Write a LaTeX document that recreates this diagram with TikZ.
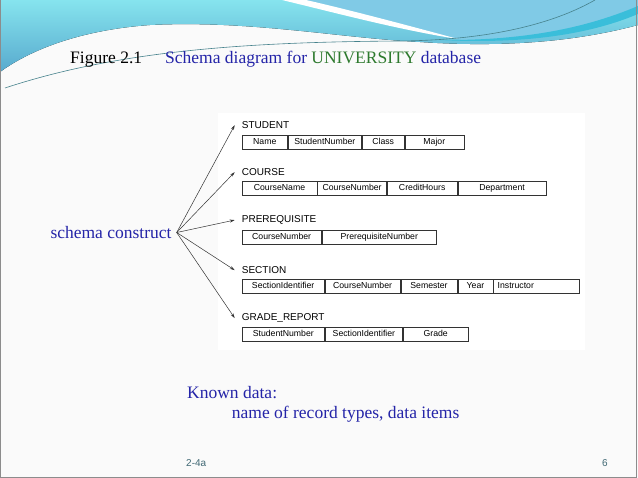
\documentclass[tikz,border=0pt]{standalone}
\usepackage{fontspec}
\setmainfont{Liberation Serif}
\setsansfont{Liberation Sans}
\usetikzlibrary{positioning,arrows.meta}
\definecolor{titleblue}{RGB}{36,36,168}
\definecolor{unigreen}{RGB}{46,122,46}
\definecolor{wavecyan}{RGB}{134,228,238}
\definecolor{wavedark}{RGB}{88,170,206}
\definecolor{waveblue}{RGB}{128,202,230}
\definecolor{wavebright}{RGB}{58,190,218}
\definecolor{waveline}{RGB}{70,130,140}
\definecolor{footgray}{RGB}{64,104,116}

\begin{document}
\begin{tikzpicture}[x=1pt,y=-1pt,
  cell/.style={draw=black!80, line width=0.6pt, minimum height=14pt, inner sep=0pt,
    text height=6.6pt, text depth=1.9pt, font=\sffamily\fontsize{8.7}{10}\selectfont},
  relname/.style={font=\sffamily\fontsize{10}{12}\selectfont, anchor=base west,
    inner xsep=7pt, inner ysep=0pt},
  slidetext/.style={font=\fontsize{17.5}{21}\selectfont, text=titleblue, inner sep=0pt},
  pointer/.style={-{Stealth[length=5pt,width=3pt]}, line width=0.5pt, draw=black!80},
  ]
  \useasboundingbox (0,0) rectangle (638,478);
  % slide and top wave
  \fill[black!2] (0,0) rectangle (638,478);
  \fill[top color=wavecyan, bottom color=wavedark] (0,0) -- (638,0) -- (638,25)
    .. controls (560,46) and (480,46) .. (420,42)
    .. controls (340,38) and (250,20) .. (150,25)
    .. controls (80,30) and (30,50) .. (0,72) -- cycle;
  \fill[waveblue] (292,0) -- (638,0) -- (638,8)
    .. controls (590,28) and (530,40) .. (462,40)
    .. controls (400,30) and (340,12) .. (292,0) -- cycle;
  \fill[white] (282,0) .. controls (340,14) and (400,30) .. (458,39)
    .. controls (410,26) and (350,10) .. (306,0) -- cycle;
  \fill[wavebright] (440,40) .. controls (540,41) and (600,22) .. (638,6) -- (638,14)
    .. controls (600,30) and (540,45) .. (440,40) -- cycle;
  \draw[waveline, line width=0.6pt] (5,88) .. controls (120,50) and (250,42) .. (400,41)
    .. controls (500,40) and (560,20) .. (595,0);
  \draw[black!45, line width=0.8pt] (0.5,0) -- (0.5,477.5) -- (636.5,477.5) -- (636.5,0);
  % schema picture
  \fill[white] (218,113) rectangle (585,350);

  \node[slidetext, text=black, anchor=base west] (fignum) at (70,63.5) {Figure 2.1};
  \node[slidetext, anchor=base west] (caption) at (165,63.5)
    {Schema diagram for \textcolor{unigreen}{UNIVERSITY} database};
  \node[slidetext, anchor=base east, inner xsep=5pt] (construct) at (176.7,238.5) {schema construct};

  \node[relname] (student) at (234.7,128.6) {STUDENT};
  \node[cell, minimum width=45.6pt, anchor=west] (stu1) at (241.7,142) {Name};
  \node[cell, minimum width=73.4pt, right=0pt of stu1] (stu2) {StudentNumber};
  \node[cell, minimum width=42pt, right=0pt of stu2] (stu3) {Class};
  \node[cell, minimum width=59pt, right=0pt of stu3] (stu4) {Major};

  \node[relname] (course) at (234.7,175.6) {COURSE};
  \node[cell, minimum width=75pt, anchor=west] (crs1) at (241.7,188.5) {CourseName};
  \node[cell, minimum width=69pt, right=0pt of crs1] (crs2) {CourseNumber};
  \node[cell, minimum width=70pt, right=0pt of crs2] (crs3) {CreditHours};
  \node[cell, minimum width=88.6pt, right=0pt of crs3] (crs4) {Department};

  \node[relname] (prereq) at (234.7,222.6) {PREREQUISITE};
  \node[cell, minimum width=79.3pt, anchor=west] (pre1) at (241.7,237.5) {CourseNumber};
  \node[cell, minimum width=114.7pt, right=0pt of pre1] (pre2) {PrerequisiteNumber};

  \node[relname] (section) at (234.7,273.6) {SECTION};
  \node[cell, minimum width=82.3pt, anchor=west] (sec1) at (241.7,286) {SectionIdentifier};
  \node[cell, minimum width=75.3pt, right=0pt of sec1] (sec2) {CourseNumber};
  \node[cell, minimum width=56.4pt, right=0pt of sec2] (sec3) {Semester};
  \node[cell, minimum width=35.3pt, right=0pt of sec3] (sec4) {Year};
  \node[cell, text width=77.7pt, inner xsep=4pt, align=left, right=0pt of sec4] (sec5) {Instructor};

  \node[relname] (grade) at (234.7,320.6) {GRADE\_REPORT};
  \node[cell, minimum width=82.6pt, anchor=west] (grd1) at (241.7,334) {StudentNumber};
  \node[cell, minimum width=77.4pt, right=0pt of grd1] (grd2) {SectionIdentifier};
  \node[cell, minimum width=65pt, right=0pt of grd2] (grd3) {Grade};

  \draw[pointer] (construct.east) -- (student.west);
  \draw[pointer] (construct.east) -- (course.west);
  \draw[pointer] (construct.east) -- (prereq.west);
  \draw[pointer] (construct.east) -- (section.west);
  \draw[pointer] (construct.east) -- (grade.west);

  \node[slidetext, anchor=base west] (known) at (187,398.5) {Known data:};
  \node[slidetext, anchor=base west] (items) at (231.7,418.5) {name of record types, data items};

  \node[font=\sffamily\fontsize{10}{12}\selectfont, text=footgray, anchor=base west, inner sep=0pt]
    (chapter) at (186,467) {2-4a};
  \node[font=\sffamily\fontsize{10}{12}\selectfont, text=footgray, anchor=base west, inner sep=0pt]
    (pagenum) at (602,467) {6};
\end{tikzpicture}
\end{document}
